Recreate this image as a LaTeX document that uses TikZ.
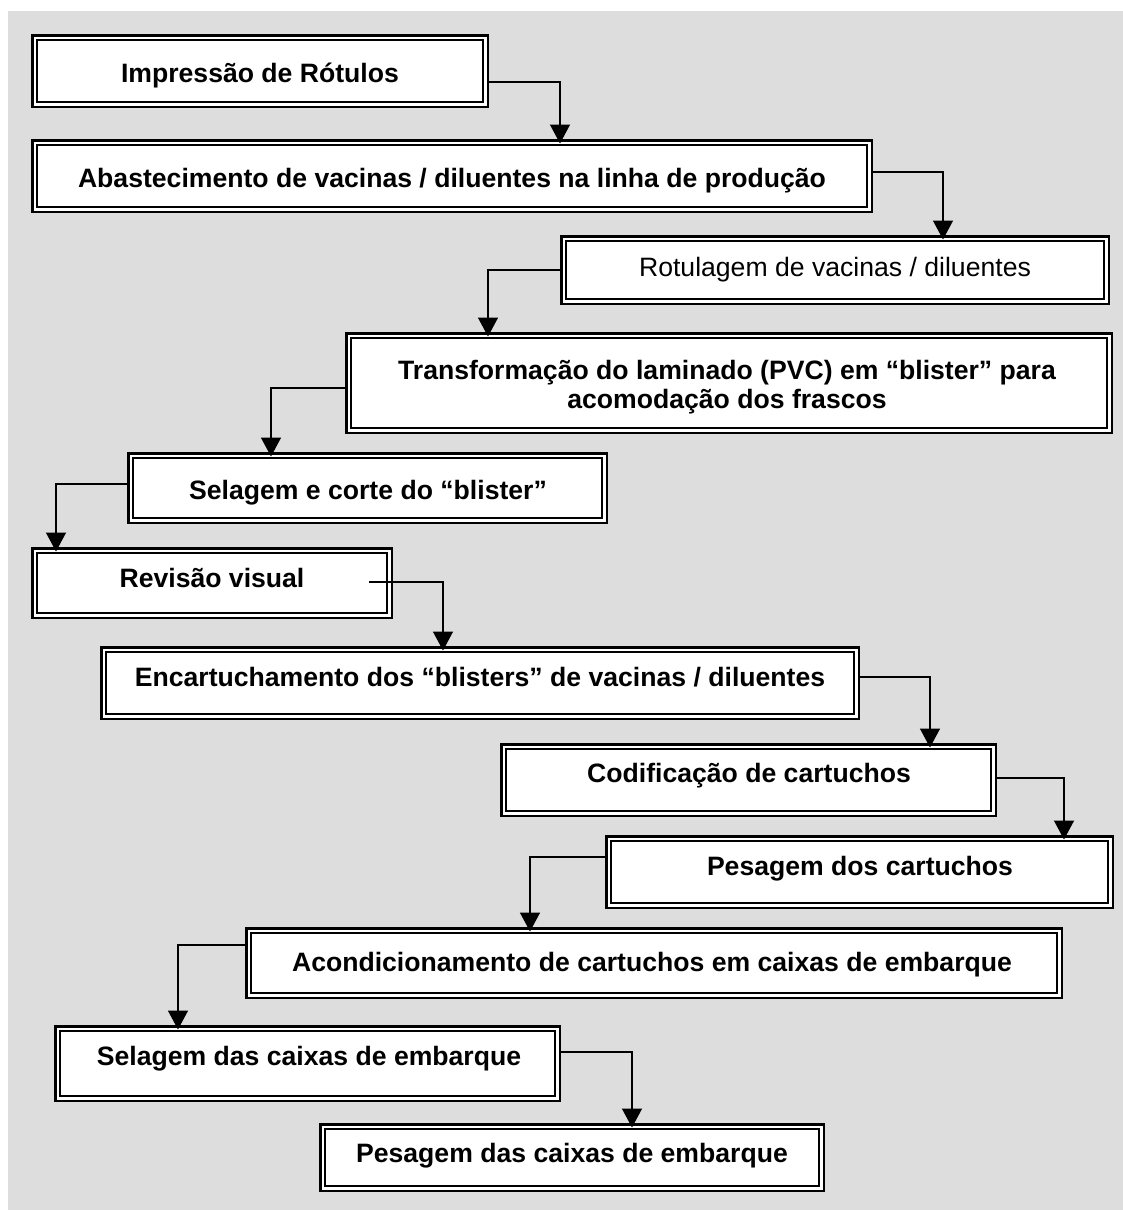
\documentclass[tikz,border=0pt]{standalone}
\usepackage{fontspec}
\setmainfont{Liberation Sans}
\usetikzlibrary{arrows.meta}
\definecolor{panel}{HTML}{DDDDDD}
\tikzset{
  stage/.style={draw, line width=2.5pt, fill=white, inner sep=0pt,
    path picture={\draw[line width=1.8pt]
      ([shift={(4.4pt,-4.4pt)}]path picture bounding box.north west) rectangle
      ([shift={(-4.4pt,4.4pt)}]path picture bounding box.south east);}},
  caption/.style={anchor=base, inner sep=0pt,
    font=\fontsize{26.6pt}{30pt}\selectfont\bfseries},
  plain/.style={anchor=base, inner sep=0pt,
    font=\fontsize{26.6pt}{30pt}\selectfont},
  flow/.style={line width=1.5pt, -{Triangle[length=19pt,width=20pt]},
    shorten >=-4.5pt},
}
\begin{document}
\begin{tikzpicture}[x=1pt,y=-1pt]
  \useasboundingbox (0,0) rectangle (1123,1210);
  \fill[white] (0,0) rectangle (1123,1210);
  \fill[panel] (8,11) rectangle (1123,1210);

  % process boxes
  \node[stage, minimum width=455.5pt, minimum height=71.5pt] (b1) at (260,71) {};
  \node[stage, minimum width=839.5pt, minimum height=71.5pt] (b2) at (452,176) {};
  \node[stage, minimum width=547.5pt, minimum height=67.5pt] (b3) at (835,270) {};
  \node[stage, minimum width=765.5pt, minimum height=99.5pt] (b4) at (729,383) {};
  \node[stage, minimum width=478.5pt, minimum height=69.5pt] (b5) at (367.5,488) {};
  \node[stage, minimum width=359.5pt, minimum height=69.5pt] (b6) at (212,583) {};
  \node[stage, minimum width=757.5pt, minimum height=71.5pt] (b7) at (480,683) {};
  \node[stage, minimum width=494.5pt, minimum height=71.5pt] (b8) at (748.5,780) {};
  \node[stage, minimum width=506.5pt, minimum height=71.5pt] (b9) at (859.5,872) {};
  \node[stage, minimum width=815.5pt, minimum height=69.5pt] (b10) at (654,963) {};
  \node[stage, minimum width=504.5pt, minimum height=74.5pt] (b11) at (307.5,1063.5) {};
  \node[stage, minimum width=503.5pt, minimum height=66.5pt] (b12) at (572,1157.5) {};

  % box texts
  \node[caption] (t1) at (260,82) {Impressão de Rótulos};
  \node[caption] (t2) at (452,187.5) {Abastecimento de vacinas / diluentes na linha de produção};
  \node[plain] (t3) at (835,276.5) {Rotulagem de vacinas / diluentes};
  \node[caption] (t4a) at (727,379) {Transformação do laminado (PVC) em “blister” para};
  \node[caption] (t4b) at (727,408) {acomodação dos frascos};
  \node[caption] (t5) at (368,499.5) {Selagem e corte do “blister”};
  \node[caption] (t6) at (212,587.5) {Revisão visual};
  \node[caption] (t7) at (480,686.5) {Encartuchamento dos “blisters” de vacinas / diluentes};
  \node[caption] (t8) at (749,782.5) {Codificação de cartuchos};
  \node[caption] (t9) at (860,875.5) {Pesagem dos cartuchos};
  \node[caption] (t10) at (652,971.5) {Acondicionamento de cartuchos em caixas de embarque};
  \node[caption] (t11) at (309,1065.5) {Selagem das caixas de embarque};
  \node[caption] (t12) at (572,1162.5) {Pesagem das caixas de embarque};

  % connectors
  \coordinate (r6) at (369,582);
  \draw[flow] (b1.east |- 0,82) -| (b2.north -| 560,0);
  \draw[flow] (b2.east |- 0,172) -| (b3.north -| 943,0);
  \draw[flow] (b3.west |- 0,270) -| (b4.north -| 488,0);
  \draw[flow] (b4.west |- 0,388) -| (b5.north -| 271,0);
  \draw[flow] (b5.west |- 0,484) -| (b6.north -| 56,0);
  \draw[flow] (r6) -| (b7.north -| 443,0);
  \draw[flow] (b7.east |- 0,677) -| (b8.north -| 930,0);
  \draw[flow] (b8.east |- 0,778) -| (b9.north -| 1064,0);
  \draw[flow] (b9.west |- 0,857) -| (b10.north -| 530,0);
  \draw[flow] (b10.west |- 0,945) -| (b11.north -| 178,0);
  \draw[flow] (b11.east |- 0,1052) -| (b12.north -| 632,0);
\end{tikzpicture}
\end{document}
